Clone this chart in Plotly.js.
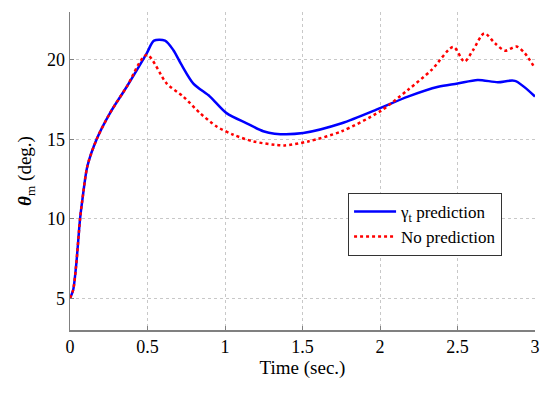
<!DOCTYPE html>
<html><head><meta charset="utf-8">
<script src="https://cdn.plot.ly/plotly-3.0.1.min.js"></script>
<style>html,body{margin:0;padding:0;background:#fff}#chart{width:550px;height:394px}</style>
</head><body><div id="chart"></div>
<script>
var timeBlue = [0, 0.02, 0.039, 0.065, 0.08, 0.112, 0.172, 0.258, 0.366, 0.495, 0.542, 0.613, 0.667, 0.72, 0.796, 0.903, 1.01, 1.14, 1.247, 1.32, 1.505, 1.753, 2.0, 2.18, 2.376, 2.5, 2.63, 2.76, 2.87, 3.0];
var gammaPrediction = [5, 5.5, 7.0, 10.0, 11.2, 13.3, 15.0, 16.64, 18.3, 20.4, 21.2, 21.2, 20.6, 19.67, 18.5, 17.68, 16.64, 16.0, 15.5, 15.35, 15.39, 16.0, 16.95, 17.68, 18.3, 18.5, 18.73, 18.58, 18.67, 17.68];
var timeRed = [0, 0.02, 0.039, 0.065, 0.08, 0.112, 0.172, 0.258, 0.366, 0.495, 0.624, 0.731, 0.839, 0.946, 1.054, 1.183, 1.32, 1.387, 1.537, 1.753, 2.0, 2.18, 2.333, 2.473, 2.544, 2.6, 2.673, 2.742, 2.806, 2.88, 2.935, 3.0];
var noPrediction = [5, 5.5, 7.0, 10.0, 11.2, 13.3, 15.0, 16.64, 18.3, 20.3, 18.5, 17.68, 16.64, 15.8, 15.28, 14.86, 14.65, 14.61, 14.86, 15.5, 16.75, 18.1, 19.36, 20.8, 19.88, 20.6, 21.66, 21.03, 20.57, 20.83, 20.4, 19.46];
var xTicks = [0, 0.5, 1, 1.5, 2, 2.5, 3];
var xTickText = ['0', '0.5', '1', '1.5', '2', '2.5', '3'];
var yTicks = [5, 10, 15, 20];

var font = 'Liberation Serif';
var traces = [
  {x: timeBlue, y: gammaPrediction, mode: 'lines', name: 'γ<sub>t</sub> prediction',
   line: {color: '#0000ff', width: 2.5, shape: 'spline', smoothing: 0.8}},
  {x: timeRed, y: noPrediction, mode: 'lines', name: 'No prediction',
   line: {color: '#ff0000', width: 2.5, dash: 'dot', shape: 'spline', smoothing: 0.8}}
];
var axisCommon = {
  showline: true, linecolor: '#808080', linewidth: 1.5,
  ticks: 'inside', ticklen: 4, tickcolor: '#808080', tickwidth: 1,
  showgrid: true, gridcolor: '#c8c8c8', griddash: 'dot', gridwidth: 1,
  zeroline: false, tickfont: {family: font, size: 18, color: '#000'}
};
var layout = {
  width: 550, height: 394,
  margin: {l: 70, r: 15, t: 12, b: 64},
  paper_bgcolor: '#fff', plot_bgcolor: '#fff',
  showlegend: true,
  font: {family: font},
  xaxis: Object.assign({}, axisCommon, {
    range: [0, 3], tickvals: xTicks, ticktext: xTickText,
    title: {text: 'Time (sec.)', font: {family: font, size: 19, color: '#000'}, standoff: 4}
  }),
  yaxis: Object.assign({}, axisCommon, {
    range: [3, 23], tickvals: yTicks,
    title: {text: '<b><i>θ</i></b><sub>m</sub> (deg.)', font: {family: font, size: 19, color: '#000'}, standoff: 10}
  }),
  legend: {
    x: 0.598, y: 0.431, xanchor: 'left', yanchor: 'top',
    bgcolor: '#fff', bordercolor: '#333', borderwidth: 1,
    font: {family: font, size: 17, color: '#000'},
    itemwidth: 42,
    tracegroupgap: 0
  }
};
Plotly.newPlot('chart', traces, layout, {displayModeBar: false, staticPlot: true});
</script></body></html>
